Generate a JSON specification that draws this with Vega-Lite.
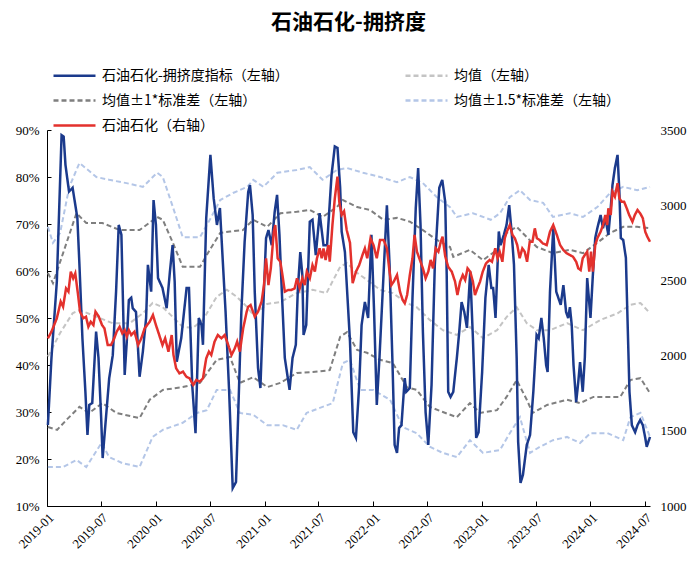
{
"$schema":"https://vega.github.io/schema/vega-lite/v6.json",
"width":603,"height":376,
"autosize":{"type":"none"},
"padding":{"left":47,"top":130,"right":50,"bottom":60},
"background":"#ffffff",
"title":{"text":"石油石化-拥挤度","font":"Noto Sans CJK SC","fontSize":21,"fontWeight":"bold","color":"#000000","anchor":"middle","frame":"group","offset":34},
"config":{"view":{"stroke":null},"axis":{"grid":false,"labelFont":"Liberation Serif","labelFontSize":13,"labelColor":"#000000","domainColor":"#000000","tickColor":"#000000","title":null}},
"datasets":{
"idx":[
{"d":"2019-01-04","v":27.2},{"d":"2019-01-16","v":41.5},{"d":"2019-02-03","v":57.7},{"d":"2019-02-19","v":88.9},{"d":"2019-02-26","v":88.6},{"d":"2019-03-04","v":82.6},{"d":"2019-03-16","v":76.9},{"d":"2019-03-28","v":77.7},{"d":"2019-04-13","v":71.3},{"d":"2019-04-20","v":61.3},{"d":"2019-04-30","v":45.7},{"d":"2019-05-10","v":34.3},{"d":"2019-05-17","v":25.1},{"d":"2019-05-23","v":31.5},{"d":"2019-06-02","v":31.9},{"d":"2019-06-15","v":47.1},{"d":"2019-06-23","v":41.5},{"d":"2019-07-02","v":28.7},{"d":"2019-07-07","v":20.2},{"d":"2019-07-18","v":28.7},{"d":"2019-07-29","v":37.2},{"d":"2019-08-10","v":42.1},{"d":"2019-08-21","v":55.5},{"d":"2019-08-30","v":69.8},{"d":"2019-09-08","v":67.7},{"d":"2019-09-19","v":37.9},{"d":"2019-09-26","v":44.9},{"d":"2019-10-03","v":53.8},{"d":"2019-10-11","v":54.3},{"d":"2019-10-16","v":52.1},{"d":"2019-10-27","v":51.3},{"d":"2019-11-08","v":37.5},{"d":"2019-11-19","v":42.8},{"d":"2019-11-30","v":50},{"d":"2019-12-06","v":61.3},{"d":"2019-12-17","v":55.6},{"d":"2019-12-25","v":75.1},
{"d":"2020-01-02","v":69.8},{"d":"2020-01-09","v":58.5},{"d":"2020-01-24","v":56.4},{"d":"2020-02-07","v":52.1},{"d":"2020-02-18","v":59.9},{"d":"2020-02-27","v":65.5},{"d":"2020-03-05","v":57.7},{"d":"2020-03-12","v":40.7},{"d":"2020-03-27","v":45.7},{"d":"2020-04-14","v":56.4},{"d":"2020-04-22","v":56.4},{"d":"2020-05-03","v":35.7},{"d":"2020-05-14","v":25.5},{"d":"2020-05-25","v":50},{"d":"2020-06-03","v":48.5},{"d":"2020-06-08","v":44.3},{"d":"2020-06-19","v":71.3},{"d":"2020-07-03","v":84.7},{"d":"2020-07-14","v":75.5},{"d":"2020-07-25","v":69.8},{"d":"2020-08-04","v":73.4},{"d":"2020-08-12","v":64},{"d":"2020-08-23","v":51.3},{"d":"2020-09-04","v":34.3},{"d":"2020-09-16","v":13.8},{"d":"2020-09-27","v":15.1},{"d":"2020-10-04","v":28.7},{"d":"2020-10-15","v":51.3},{"d":"2020-10-26","v":66.2},{"d":"2020-11-07","v":76.8},{"d":"2020-11-13","v":78.3},{"d":"2020-11-22","v":71.9},{"d":"2020-11-29","v":55.6},{"d":"2020-12-10","v":39.4},{"d":"2020-12-18","v":35.1},{"d":"2020-12-27","v":51.3},
{"d":"2021-01-06","v":67},{"d":"2021-01-14","v":68.7},{"d":"2021-01-25","v":65.5},{"d":"2021-02-04","v":72.6},{"d":"2021-02-12","v":76.2},{"d":"2021-02-20","v":67.7},{"d":"2021-02-28","v":55.6},{"d":"2021-03-10","v":41.5},{"d":"2021-03-26","v":34.7},{"d":"2021-04-05","v":41.5},{"d":"2021-04-16","v":44.3},{"d":"2021-04-23","v":56.4},{"d":"2021-05-01","v":64},{"d":"2021-05-08","v":59.1},{"d":"2021-05-12","v":46.4},{"d":"2021-05-21","v":48.5},{"d":"2021-06-02","v":70.5},{"d":"2021-06-11","v":70.9},{"d":"2021-06-22","v":63.4},{"d":"2021-07-05","v":72.3},{"d":"2021-07-18","v":65.5},{"d":"2021-07-30","v":65.5},{"d":"2021-08-14","v":80.4},{"d":"2021-08-25","v":86.5},{"d":"2021-09-03","v":86.2},{"d":"2021-09-12","v":77.7},{"d":"2021-09-17","v":68.4},{"d":"2021-09-28","v":64},{"d":"2021-10-15","v":45},{"d":"2021-10-26","v":25.7},{"d":"2021-11-04","v":24.5},{"d":"2021-11-15","v":35.7},{"d":"2021-11-23","v":48.5},{"d":"2021-12-04","v":53.4},{"d":"2021-12-15","v":50},{"d":"2021-12-26","v":67.7},
{"d":"2022-01-04","v":51.3},{"d":"2022-01-13","v":31.5},{"d":"2022-01-22","v":41.5},{"d":"2022-02-03","v":57},{"d":"2022-02-16","v":74},{"d":"2022-02-25","v":61.3},{"d":"2022-03-07","v":40},{"d":"2022-03-14","v":23},{"d":"2022-03-22","v":21.3},{"d":"2022-03-29","v":26.6},{"d":"2022-04-06","v":27.2},{"d":"2022-04-17","v":37.2},{"d":"2022-04-22","v":34.3},{"d":"2022-05-04","v":35.1},{"d":"2022-05-13","v":54.3},{"d":"2022-05-24","v":73.4},{"d":"2022-06-01","v":81.9},{"d":"2022-06-09","v":69.8},{"d":"2022-06-17","v":47},{"d":"2022-06-26","v":30},{"d":"2022-07-05","v":23},{"d":"2022-07-16","v":35.7},{"d":"2022-07-27","v":61.3},{"d":"2022-08-11","v":77.7},{"d":"2022-08-21","v":79.4},{"d":"2022-08-31","v":74.7},{"d":"2022-09-05","v":59.1},{"d":"2022-09-10","v":34.3},{"d":"2022-09-18","v":33.2},{"d":"2022-09-27","v":34.3},{"d":"2022-10-09","v":41.5},{"d":"2022-10-17","v":47},{"d":"2022-10-25","v":53.4},{"d":"2022-11-03","v":51.3},{"d":"2022-11-12","v":47.9},{"d":"2022-11-23","v":59.9},{"d":"2022-12-02","v":45.7},{"d":"2022-12-13","v":24.5},{"d":"2022-12-21","v":25.7},
{"d":"2023-01-02","v":38.5},{"d":"2023-01-13","v":54.3},{"d":"2023-01-24","v":61.3},{"d":"2023-02-02","v":56.4},{"d":"2023-02-08","v":56.4},{"d":"2023-02-16","v":50},{"d":"2023-02-27","v":68.4},{"d":"2023-03-05","v":65.5},{"d":"2023-03-16","v":67.7},{"d":"2023-03-25","v":69.8},{"d":"2023-04-03","v":74},{"d":"2023-04-11","v":68.4},{"d":"2023-04-19","v":61.3},{"d":"2023-04-28","v":41.5},{"d":"2023-05-03","v":23.7},{"d":"2023-05-11","v":14.9},{"d":"2023-05-19","v":16.6},{"d":"2023-06-01","v":23},{"d":"2023-06-12","v":25.1},{"d":"2023-06-23","v":34.3},{"d":"2023-07-04","v":46.4},{"d":"2023-07-11","v":45.7},{"d":"2023-07-20","v":50},{"d":"2023-07-28","v":45.7},{"d":"2023-08-05","v":40},{"d":"2023-08-10","v":38.5},{"d":"2023-08-18","v":55.6},{"d":"2023-08-29","v":69.1},{"d":"2023-09-08","v":55.6},{"d":"2023-09-15","v":54.3},{"d":"2023-09-23","v":52.8},{"d":"2023-10-02","v":57},{"d":"2023-10-11","v":51.3},{"d":"2023-10-18","v":50},{"d":"2023-10-24","v":52.3},{"d":"2023-10-30","v":48.5},{"d":"2023-11-05","v":40},{"d":"2023-11-14","v":32.1},{"d":"2023-11-21","v":36.4},{"d":"2023-11-27","v":40.6},{"d":"2023-12-06","v":34.3},{"d":"2023-12-13","v":41.5},{"d":"2023-12-21","v":58.5},
{"d":"2024-01-01","v":50},{"d":"2024-01-09","v":59.1},{"d":"2024-01-17","v":67},{"d":"2024-01-24","v":69.1},{"d":"2024-02-04","v":71.9},{"d":"2024-02-12","v":69.1},{"d":"2024-02-20","v":71.3},{"d":"2024-03-01","v":67.7},{"d":"2024-03-09","v":73.4},{"d":"2024-03-15","v":78.3},{"d":"2024-03-23","v":81.9},{"d":"2024-04-01","v":84.7},{"d":"2024-04-07","v":76.9},{"d":"2024-04-12","v":67},{"d":"2024-04-20","v":66.6},{"d":"2024-04-29","v":62.8},{"d":"2024-05-05","v":48.5},{"d":"2024-05-11","v":34.3},{"d":"2024-05-19","v":27.2},{"d":"2024-05-30","v":25.7},{"d":"2024-06-07","v":27.2},{"d":"2024-06-16","v":28.3},{"d":"2024-06-25","v":27.2},{"d":"2024-07-03","v":24.5},{"d":"2024-07-08","v":22.6},{"d":"2024-07-19","v":24.7}
],
"px":[
{"d":"2019-01-04","v":2115},{"d":"2019-01-16","v":2159},{"d":"2019-02-03","v":2248},{"d":"2019-02-16","v":2359},{"d":"2019-02-24","v":2325},{"d":"2019-03-06","v":2447},{"d":"2019-03-14","v":2425},{"d":"2019-03-22","v":2558},{"d":"2019-03-30","v":2514},{"d":"2019-04-06","v":2547},{"d":"2019-04-14","v":2425},{"d":"2019-04-22","v":2292},{"d":"2019-05-03","v":2248},{"d":"2019-05-12","v":2259},{"d":"2019-05-20","v":2192},{"d":"2019-05-28","v":2225},{"d":"2019-06-06","v":2203},{"d":"2019-06-13","v":2292},{"d":"2019-06-24","v":2259},{"d":"2019-07-05","v":2203},{"d":"2019-07-13","v":2181},{"d":"2019-07-24","v":2070},{"d":"2019-08-04","v":2070},{"d":"2019-08-15","v":2115},{"d":"2019-08-23","v":2159},{"d":"2019-09-02","v":2192},{"d":"2019-09-11","v":2148},{"d":"2019-09-19","v":2170},{"d":"2019-09-26","v":2126},{"d":"2019-10-03","v":2170},{"d":"2019-10-11","v":2137},{"d":"2019-10-22","v":2159},{"d":"2019-11-03","v":2070},{"d":"2019-11-14","v":2115},{"d":"2019-11-25","v":2181},{"d":"2019-12-12","v":2225},{"d":"2019-12-23","v":2270},
{"d":"2020-01-02","v":2203},{"d":"2020-01-13","v":2137},{"d":"2020-01-24","v":2070},{"d":"2020-02-02","v":2115},{"d":"2020-02-13","v":2026},{"d":"2020-02-24","v":2137},{"d":"2020-03-01","v":2004},{"d":"2020-03-10","v":1915},{"d":"2020-03-21","v":1882},{"d":"2020-04-02","v":1893},{"d":"2020-04-13","v":1860},{"d":"2020-04-24","v":1849},{"d":"2020-05-06","v":1805},{"d":"2020-05-17","v":1838},{"d":"2020-05-28","v":1827},{"d":"2020-06-08","v":1849},{"d":"2020-06-19","v":1982},{"d":"2020-06-28","v":2026},{"d":"2020-07-06","v":2004},{"d":"2020-07-17","v":2093},{"d":"2020-07-28","v":2137},{"d":"2020-08-09","v":2115},{"d":"2020-08-20","v":2137},{"d":"2020-09-01","v":2070},{"d":"2020-09-12","v":2004},{"d":"2020-09-23","v":2048},{"d":"2020-10-01","v":2093},{"d":"2020-10-10","v":2026},{"d":"2020-10-21","v":2180},{"d":"2020-11-02","v":2292},{"d":"2020-11-07","v":2325},{"d":"2020-11-15","v":2336},{"d":"2020-11-29","v":2259},{"d":"2020-12-10","v":2292},{"d":"2020-12-22","v":2359},{"d":"2020-12-30","v":2469},
{"d":"2021-01-06","v":2647},{"d":"2021-01-14","v":2469},{"d":"2021-01-22","v":2580},{"d":"2021-02-01","v":2824},{"d":"2021-02-06","v":2868},{"d":"2021-02-14","v":2647},{"d":"2021-02-23","v":2624},{"d":"2021-03-02","v":2536},{"d":"2021-03-10","v":2425},{"d":"2021-03-21","v":2436},{"d":"2021-04-01","v":2436},{"d":"2021-04-12","v":2447},{"d":"2021-04-20","v":2514},{"d":"2021-04-29","v":2447},{"d":"2021-05-08","v":2514},{"d":"2021-05-16","v":2469},{"d":"2021-05-23","v":2558},{"d":"2021-06-02","v":2514},{"d":"2021-06-11","v":2602},{"d":"2021-06-19","v":2558},{"d":"2021-06-26","v":2647},{"d":"2021-07-05","v":2713},{"d":"2021-07-12","v":2647},{"d":"2021-07-18","v":2713},{"d":"2021-07-25","v":2636},{"d":"2021-08-03","v":2735},{"d":"2021-08-08","v":2624},{"d":"2021-08-17","v":2868},{"d":"2021-08-25","v":3046},{"d":"2021-09-03","v":3190},{"d":"2021-09-09","v":3023},{"d":"2021-09-17","v":2935},{"d":"2021-09-25","v":2960},{"d":"2021-10-04","v":2835},{"d":"2021-10-15","v":2750},{"d":"2021-10-24","v":2481},{"d":"2021-11-04","v":2558},{"d":"2021-11-15","v":2602},{"d":"2021-11-26","v":2669},{"d":"2021-12-04","v":2713},{"d":"2021-12-12","v":2647},{"d":"2021-12-23","v":2780},
{"d":"2022-01-02","v":2735},{"d":"2022-01-13","v":2647},{"d":"2022-01-24","v":2769},{"d":"2022-02-05","v":2769},{"d":"2022-02-16","v":2713},{"d":"2022-02-25","v":2558},{"d":"2022-03-03","v":2469},{"d":"2022-03-11","v":2492},{"d":"2022-03-22","v":2536},{"d":"2022-04-01","v":2425},{"d":"2022-04-10","v":2370},{"d":"2022-04-17","v":2348},{"d":"2022-04-25","v":2403},{"d":"2022-05-04","v":2536},{"d":"2022-05-13","v":2647},{"d":"2022-05-20","v":2802},{"d":"2022-05-28","v":2691},{"d":"2022-06-09","v":2624},{"d":"2022-06-17","v":2580},{"d":"2022-06-26","v":2514},{"d":"2022-07-05","v":2558},{"d":"2022-07-13","v":2636},{"d":"2022-07-21","v":2580},{"d":"2022-07-30","v":2713},{"d":"2022-08-08","v":2691},{"d":"2022-08-16","v":2757},{"d":"2022-08-22","v":2790},{"d":"2022-08-31","v":2660},{"d":"2022-09-10","v":2590},{"d":"2022-09-22","v":2558},{"d":"2022-10-03","v":2492},{"d":"2022-10-11","v":2403},{"d":"2022-10-20","v":2492},{"d":"2022-10-29","v":2536},{"d":"2022-11-06","v":2503},{"d":"2022-11-14","v":2580},{"d":"2022-11-23","v":2558},{"d":"2022-12-02","v":2492},{"d":"2022-12-09","v":2403},{"d":"2022-12-17","v":2447},{"d":"2022-12-26","v":2492},
{"d":"2023-01-04","v":2558},{"d":"2023-01-15","v":2613},{"d":"2023-01-27","v":2636},{"d":"2023-02-04","v":2624},{"d":"2023-02-15","v":2713},{"d":"2023-02-23","v":2647},{"d":"2023-03-02","v":2691},{"d":"2023-03-11","v":2624},{"d":"2023-03-19","v":2780},{"d":"2023-03-26","v":2824},{"d":"2023-04-05","v":2868},{"d":"2023-04-14","v":2802},{"d":"2023-04-22","v":2780},{"d":"2023-04-30","v":2735},{"d":"2023-05-08","v":2647},{"d":"2023-05-17","v":2713},{"d":"2023-05-25","v":2691},{"d":"2023-06-02","v":2624},{"d":"2023-06-11","v":2757},{"d":"2023-06-20","v":2757},{"d":"2023-06-28","v":2846},{"d":"2023-07-05","v":2780},{"d":"2023-07-14","v":2769},{"d":"2023-07-25","v":2746},{"d":"2023-08-07","v":2735},{"d":"2023-08-18","v":2824},{"d":"2023-08-29","v":2868},{"d":"2023-09-10","v":2802},{"d":"2023-09-21","v":2735},{"d":"2023-10-02","v":2702},{"d":"2023-10-13","v":2680},{"d":"2023-10-24","v":2669},{"d":"2023-11-03","v":2658},{"d":"2023-11-14","v":2624},{"d":"2023-11-21","v":2580},{"d":"2023-11-29","v":2569},{"d":"2023-12-06","v":2647},{"d":"2023-12-13","v":2669},{"d":"2023-12-21","v":2691},{"d":"2023-12-28","v":2558},
{"d":"2024-01-03","v":2691},{"d":"2024-01-09","v":2558},{"d":"2024-01-17","v":2735},{"d":"2024-01-24","v":2780},{"d":"2024-02-04","v":2824},{"d":"2024-02-12","v":2868},{"d":"2024-02-20","v":2935},{"d":"2024-02-26","v":2868},{"d":"2024-03-01","v":2979},{"d":"2024-03-09","v":2935},{"d":"2024-03-15","v":3090},{"d":"2024-03-23","v":3057},{"d":"2024-04-01","v":3146},{"d":"2024-04-07","v":3046},{"d":"2024-04-15","v":3023},{"d":"2024-04-23","v":3023},{"d":"2024-05-02","v":2979},{"d":"2024-05-10","v":2935},{"d":"2024-05-21","v":2890},{"d":"2024-05-29","v":2935},{"d":"2024-06-07","v":2968},{"d":"2024-06-16","v":2946},{"d":"2024-06-25","v":2913},{"d":"2024-07-03","v":2824},{"d":"2024-07-10","v":2791},{"d":"2024-07-19","v":2757}
],
"bands":[
{"d":"2019-01-04","k":"m","v":41.8},{"d":"2019-02-14","k":"m","v":46.8},{"d":"2019-03-28","k":"m","v":51},{"d":"2019-04-20","k":"m","v":51.7},{"d":"2019-06-15","k":"m","v":50.3},{"d":"2019-08-09","k":"m","v":48.9},{"d":"2019-10-06","k":"m","v":48.9},{"d":"2019-11-19","k":"m","v":51},{"d":"2019-12-22","k":"m","v":53.2},{"d":"2020-01-25","k":"m","v":52.3},{"d":"2020-02-28","k":"m","v":50.2},{"d":"2020-04-01","k":"m","v":48.1},{"d":"2020-05-05","k":"m","v":47.9},{"d":"2020-06-08","k":"m","v":49.6},{"d":"2020-07-24","k":"m","v":54.5},{"d":"2020-08-27","k":"m","v":56},{"d":"2020-09-30","k":"m","v":54.5},{"d":"2020-11-04","k":"m","v":52.3},{"d":"2020-11-24","k":"m","v":50.6},{"d":"2021-01-10","k":"m","v":53},{"d":"2021-02-23","k":"m","v":53.4},{"d":"2021-04-19","k":"m","v":55.3},{"d":"2021-06-12","k":"m","v":56},{"d":"2021-07-28","k":"m","v":55.3},{"d":"2021-09-12","k":"m","v":60.9},{"d":"2021-10-05","k":"m","v":61.7},{"d":"2021-11-08","k":"m","v":59.6},{"d":"2021-12-11","k":"m","v":58.1},{"d":"2022-01-24","k":"m","v":56},{"d":"2022-03-08","k":"m","v":55.3},{"d":"2022-04-24","k":"m","v":53.2},{"d":"2022-05-27","k":"m","v":52.3},{"d":"2022-07-10","k":"m","v":49.6},{"d":"2022-08-23","k":"m","v":47.4},{"d":"2022-10-09","k":"m","v":46.4},{"d":"2022-11-22","k":"m","v":48.1},{"d":"2023-01-05","k":"m","v":45.7},{"d":"2023-02-21","k":"m","v":47.4},{"d":"2023-03-25","k":"m","v":50.2},{"d":"2023-04-28","k":"m","v":52.3},{"d":"2023-06-01","k":"m","v":48.9},{"d":"2023-07-05","k":"m","v":47.4},{"d":"2023-08-18","k":"m","v":47.4},{"d":"2023-10-14","k":"m","v":48.9},{"d":"2023-12-07","k":"m","v":47.4},{"d":"2024-02-04","k":"m","v":49.6},{"d":"2024-04-01","k":"m","v":51},{"d":"2024-05-14","k":"m","v":52.8},{"d":"2024-06-17","k":"m","v":53.2},{"d":"2024-07-19","k":"m","v":51},
{"d":"2019-01-04","k":"u1","v":59.6},{"d":"2019-01-21","k":"u1","v":57.4},{"d":"2019-02-24","k":"u1","v":63.8},{"d":"2019-04-10","k":"u1","v":72.3},{"d":"2019-05-13","k":"u1","v":70.2},{"d":"2019-07-06","k":"u1","v":70.2},{"d":"2019-09-03","k":"u1","v":68.7},{"d":"2019-11-08","k":"u1","v":68.7},{"d":"2020-01-06","k":"u1","v":71.5},{"d":"2020-01-25","k":"u1","v":70.9},{"d":"2020-02-28","k":"u1","v":66},{"d":"2020-04-01","k":"u1","v":60.9},{"d":"2020-05-29","k":"u1","v":60.9},{"d":"2020-07-01","k":"u1","v":64.5},{"d":"2020-08-05","k":"u1","v":68.1},{"d":"2020-09-07","k":"u1","v":68.4},{"d":"2020-10-20","k":"u1","v":68.7},{"d":"2020-11-24","k":"u1","v":70.9},{"d":"2021-01-10","k":"u1","v":69.4},{"d":"2021-02-23","k":"u1","v":72.3},{"d":"2021-04-19","k":"u1","v":72.6},{"d":"2021-06-02","k":"u1","v":73},{"d":"2021-07-15","k":"u1","v":71.5},{"d":"2021-09-01","k":"u1","v":73.6},{"d":"2021-09-21","k":"u1","v":75.1},{"d":"2021-11-08","k":"u1","v":73.6},{"d":"2021-12-21","k":"u1","v":73},{"d":"2022-02-04","k":"u1","v":70.9},{"d":"2022-03-22","k":"u1","v":71.3},{"d":"2022-05-04","k":"u1","v":70.5},{"d":"2022-06-17","k":"u1","v":68.7},{"d":"2022-08-03","k":"u1","v":66.6},{"d":"2022-09-16","k":"u1","v":65.1},{"d":"2022-09-27","k":"u1","v":63},{"d":"2022-11-22","k":"u1","v":64.5},{"d":"2023-01-05","k":"u1","v":62.3},{"d":"2023-02-21","k":"u1","v":64.5},{"d":"2023-03-25","k":"u1","v":68.1},{"d":"2023-04-28","k":"u1","v":69.4},{"d":"2023-06-01","k":"u1","v":67.2},{"d":"2023-07-05","k":"u1","v":65.1},{"d":"2023-08-28","k":"u1","v":63.8},{"d":"2023-10-24","k":"u1","v":64.5},{"d":"2023-12-07","k":"u1","v":63.8},{"d":"2024-01-24","k":"u1","v":66},{"d":"2024-03-07","k":"u1","v":68.1},{"d":"2024-04-20","k":"u1","v":69.4},{"d":"2024-06-06","k":"u1","v":69.4},{"d":"2024-07-19","k":"u1","v":69.1},
{"d":"2019-01-04","k":"l1","v":26.8},{"d":"2019-02-04","k":"l1","v":26.2},{"d":"2019-03-07","k":"l1","v":28.3},{"d":"2019-04-20","k":"l1","v":31.1},{"d":"2019-05-23","k":"l1","v":29.8},{"d":"2019-07-06","k":"l1","v":31.9},{"d":"2019-08-22","k":"l1","v":29.8},{"d":"2019-11-08","k":"l1","v":28.7},{"d":"2019-12-12","k":"l1","v":32.6},{"d":"2020-01-25","k":"l1","v":34.7},{"d":"2020-04-01","k":"l1","v":35.3},{"d":"2020-05-29","k":"l1","v":36.2},{"d":"2020-07-24","k":"l1","v":41.1},{"d":"2020-09-07","k":"l1","v":41.7},{"d":"2020-10-10","k":"l1","v":36.2},{"d":"2020-11-24","k":"l1","v":37.4},{"d":"2021-01-10","k":"l1","v":35.3},{"d":"2021-02-23","k":"l1","v":36.2},{"d":"2021-04-19","k":"l1","v":38.3},{"d":"2021-06-12","k":"l1","v":38.5},{"d":"2021-08-08","k":"l1","v":38.9},{"d":"2021-09-12","k":"l1","v":46},{"d":"2021-10-05","k":"l1","v":47},{"d":"2021-11-08","k":"l1","v":43.2},{"d":"2021-12-11","k":"l1","v":42.6},{"d":"2022-01-24","k":"l1","v":41.1},{"d":"2022-03-08","k":"l1","v":40.4},{"d":"2022-04-24","k":"l1","v":35.3},{"d":"2022-05-27","k":"l1","v":34.7},{"d":"2022-07-10","k":"l1","v":31.1},{"d":"2022-08-23","k":"l1","v":30},{"d":"2022-10-09","k":"l1","v":28.9},{"d":"2022-11-22","k":"l1","v":31.9},{"d":"2022-12-26","k":"l1","v":29.8},{"d":"2023-02-21","k":"l1","v":30.4},{"d":"2023-03-25","k":"l1","v":33.2},{"d":"2023-04-28","k":"l1","v":36.8},{"d":"2023-06-01","k":"l1","v":32.6},{"d":"2023-06-21","k":"l1","v":29.8},{"d":"2023-08-08","k":"l1","v":31.5},{"d":"2023-10-14","k":"l1","v":32.6},{"d":"2023-11-27","k":"l1","v":31.9},{"d":"2024-01-11","k":"l1","v":33.2},{"d":"2024-04-10","k":"l1","v":33.2},{"d":"2024-05-14","k":"l1","v":36.8},{"d":"2024-06-17","k":"l1","v":37.2},{"d":"2024-07-19","k":"l1","v":34},
{"d":"2019-01-04","k":"u15","v":69.4},{"d":"2019-01-21","k":"u15","v":66},{"d":"2019-02-14","k":"u15","v":68.1},{"d":"2019-03-17","k":"u15","v":77.9},{"d":"2019-04-20","k":"u15","v":83},{"d":"2019-06-16","k":"u15","v":80},{"d":"2019-07-29","k":"u15","v":79.4},{"d":"2019-09-25","k":"u15","v":78.7},{"d":"2019-11-19","k":"u15","v":77.9},{"d":"2020-01-06","k":"u15","v":80.9},{"d":"2020-01-25","k":"u15","v":80},{"d":"2020-02-28","k":"u15","v":73.6},{"d":"2020-04-01","k":"u15","v":67.2},{"d":"2020-05-29","k":"u15","v":67.2},{"d":"2020-07-01","k":"u15","v":70.9},{"d":"2020-08-05","k":"u15","v":75.1},{"d":"2020-09-17","k":"u15","v":76.6},{"d":"2020-11-04","k":"u15","v":77.9},{"d":"2020-11-24","k":"u15","v":79.4},{"d":"2020-12-28","k":"u15","v":77.9},{"d":"2021-02-13","k":"u15","v":80.9},{"d":"2021-04-19","k":"u15","v":81.5},{"d":"2021-06-02","k":"u15","v":82.1},{"d":"2021-07-15","k":"u15","v":79.4},{"d":"2021-09-01","k":"u15","v":81.5},{"d":"2021-10-05","k":"u15","v":81.9},{"d":"2021-11-28","k":"u15","v":80.9},{"d":"2022-01-24","k":"u15","v":80},{"d":"2022-03-22","k":"u15","v":78.9},{"d":"2022-05-04","k":"u15","v":80},{"d":"2022-06-17","k":"u15","v":78.7},{"d":"2022-08-03","k":"u15","v":75.7},{"d":"2022-09-16","k":"u15","v":73.6},{"d":"2022-10-09","k":"u15","v":71.5},{"d":"2022-12-02","k":"u15","v":72.3},{"d":"2023-01-31","k":"u15","v":70.9},{"d":"2023-03-03","k":"u15","v":72.3},{"d":"2023-04-05","k":"u15","v":75.7},{"d":"2023-05-09","k":"u15","v":77.2},{"d":"2023-06-12","k":"u15","v":75.1},{"d":"2023-07-26","k":"u15","v":74.5},{"d":"2023-08-28","k":"u15","v":71.5},{"d":"2023-10-24","k":"u15","v":72.3},{"d":"2023-12-07","k":"u15","v":71.5},{"d":"2024-01-24","k":"u15","v":73.6},{"d":"2024-03-07","k":"u15","v":76.6},{"d":"2024-04-20","k":"u15","v":77.9},{"d":"2024-06-06","k":"u15","v":77.2},{"d":"2024-07-19","k":"u15","v":77.9},
{"d":"2019-01-04","k":"l15","v":18.3},{"d":"2019-02-24","k":"l15","v":18.3},{"d":"2019-04-10","k":"l15","v":19.8},{"d":"2019-05-13","k":"l15","v":18.3},{"d":"2019-07-03","k":"l15","v":23.4},{"d":"2019-07-29","k":"l15","v":20.4},{"d":"2019-09-12","k":"l15","v":19.1},{"d":"2019-11-08","k":"l15","v":18.3},{"d":"2019-12-22","k":"l15","v":24.7},{"d":"2020-01-25","k":"l15","v":26.2},{"d":"2020-04-01","k":"l15","v":27.7},{"d":"2020-05-19","k":"l15","v":29.8},{"d":"2020-06-21","k":"l15","v":30.4},{"d":"2020-07-24","k":"l15","v":34.7},{"d":"2020-09-07","k":"l15","v":34.7},{"d":"2020-10-10","k":"l15","v":29.8},{"d":"2020-11-24","k":"l15","v":29.4},{"d":"2021-01-10","k":"l15","v":27.2},{"d":"2021-03-03","k":"l15","v":27.2},{"d":"2021-04-19","k":"l15","v":26.2},{"d":"2021-05-22","k":"l15","v":29.8},{"d":"2021-07-15","k":"l15","v":31.1},{"d":"2021-08-18","k":"l15","v":31.9},{"d":"2021-09-21","k":"l15","v":40.4},{"d":"2021-10-15","k":"l15","v":41.1},{"d":"2021-11-18","k":"l15","v":34.7},{"d":"2022-01-01","k":"l15","v":34.7},{"d":"2022-02-27","k":"l15","v":32.6},{"d":"2022-04-10","k":"l15","v":26.8},{"d":"2022-05-27","k":"l15","v":25.5},{"d":"2022-07-10","k":"l15","v":22.6},{"d":"2022-08-23","k":"l15","v":21.3},{"d":"2022-10-09","k":"l15","v":20.4},{"d":"2022-11-22","k":"l15","v":24},{"d":"2023-01-05","k":"l15","v":21.3},{"d":"2023-03-03","k":"l15","v":21.9},{"d":"2023-04-05","k":"l15","v":25.5},{"d":"2023-05-09","k":"l15","v":28.9},{"d":"2023-06-12","k":"l15","v":21.3},{"d":"2023-07-15","k":"l15","v":22.6},{"d":"2023-08-28","k":"l15","v":24},{"d":"2023-10-14","k":"l15","v":24.7},{"d":"2023-11-27","k":"l15","v":23.4},{"d":"2024-01-01","k":"l15","v":25.5},{"d":"2024-02-27","k":"l15","v":25.5},{"d":"2024-04-20","k":"l15","v":24},{"d":"2024-05-14","k":"l15","v":28.9},{"d":"2024-06-17","k":"l15","v":29.8},{"d":"2024-07-19","k":"l15","v":24.7}
]
},
"layer":[
{"layer":[
{"data":{"name":"bands"},"mark":{"type":"line","strokeWidth":2},
"encoding":{
"x":{"field":"d","type":"temporal","scale":{"domain":[{"year":2019,"month":1,"date":1},{"year":2024,"month":7,"date":19}]},
"axis":{"values":[{"year":2019,"month":1,"date":1},{"year":2019,"month":7,"date":1},{"year":2020,"month":1,"date":1},{"year":2020,"month":7,"date":1},{"year":2021,"month":1,"date":1},{"year":2021,"month":7,"date":1},{"year":2022,"month":1,"date":1},{"year":2022,"month":7,"date":1},{"year":2023,"month":1,"date":1},{"year":2023,"month":7,"date":1},{"year":2024,"month":1,"date":1},{"year":2024,"month":7,"date":1}],"format":"%Y-%m","labelAngle":-45,"tickSize":-5,"labelPadding":10}},
"y":{"field":"v","type":"quantitative","scale":{"domain":[10,90]},"axis":{"orient":"left","values":[10,20,30,40,50,60,70,80,90],"labelExpr":"datum.value + '%'","tickSize":-4,"labelPadding":12}},
"color":{"field":"k","type":"nominal","scale":{"domain":["idx","m","u1","l1","u15","l15","px"],"range":["#1b3a8c","#c4c4c4","#7f7f7f","#7f7f7f","#b4c6e7","#b4c6e7","#e3312d"]},
"legend":{"orient":"none","legendX":5,"legendY":-63,"direction":"horizontal","columns":2,"columnPadding":111,"rowPadding":9,"title":null,"values":["idx","m","u1","u15","px"],"symbolType":"M-1,0H5","symbolSize":196,"symbolStrokeWidth":2.5,"labelOffset":33,"labelFont":"Noto Sans CJK SC","labelFontSize":14,"labelColor":"#000000","labelLimit":400,
"labelExpr":"datum.label=='idx'?'石油石化-拥挤度指标（左轴）':datum.label=='m'?'均值（左轴）':datum.label=='u1'?'均值±1*标准差（左轴）':datum.label=='u15'?'均值±1.5*标准差（左轴）':'石油石化（右轴）'"}},
"strokeDash":{"field":"k","type":"nominal","scale":{"domain":["idx","m","u1","l1","u15","l15","px"],"range":[[1,0],[5,3],[5,3],[5,3],[5,3],[5,3],[1,0]]},
"legend":{"orient":"none","legendX":5,"legendY":-63,"direction":"horizontal","columns":2,"columnPadding":111,"rowPadding":9,"title":null,"values":["idx","m","u1","u15","px"],"symbolType":"M-1,0H5","symbolSize":196,"symbolStrokeWidth":2.5,"labelOffset":33,"labelFont":"Noto Sans CJK SC","labelFontSize":14,"labelColor":"#000000","labelLimit":400,
"labelExpr":"datum.label=='idx'?'石油石化-拥挤度指标（左轴）':datum.label=='m'?'均值（左轴）':datum.label=='u1'?'均值±1*标准差（左轴）':datum.label=='u15'?'均值±1.5*标准差（左轴）':'石油石化（右轴）'"}}
}},
{"data":{"name":"idx"},"mark":{"type":"line","strokeWidth":2.5},
"encoding":{
"x":{"field":"d","type":"temporal"},
"y":{"field":"v","type":"quantitative","scale":{"domain":[10,90]}},
"color":{"datum":"idx","type":"nominal"},
"strokeDash":{"datum":"idx","type":"nominal"}
}}
]},
{"data":{"name":"px"},"mark":{"type":"line","strokeWidth":2.5},
"encoding":{
"x":{"field":"d","type":"temporal"},
"y":{"field":"v","type":"quantitative","scale":{"domain":[1000,3500]},"axis":{"orient":"right","values":[1000,1500,2000,2500,3000,3500],"format":"d","domain":false,"ticks":false,"labelPadding":10}},
"color":{"datum":"px","type":"nominal"},
"strokeDash":{"datum":"px","type":"nominal"}
}}
],
"resolve":{"scale":{"y":"independent"}}
}
